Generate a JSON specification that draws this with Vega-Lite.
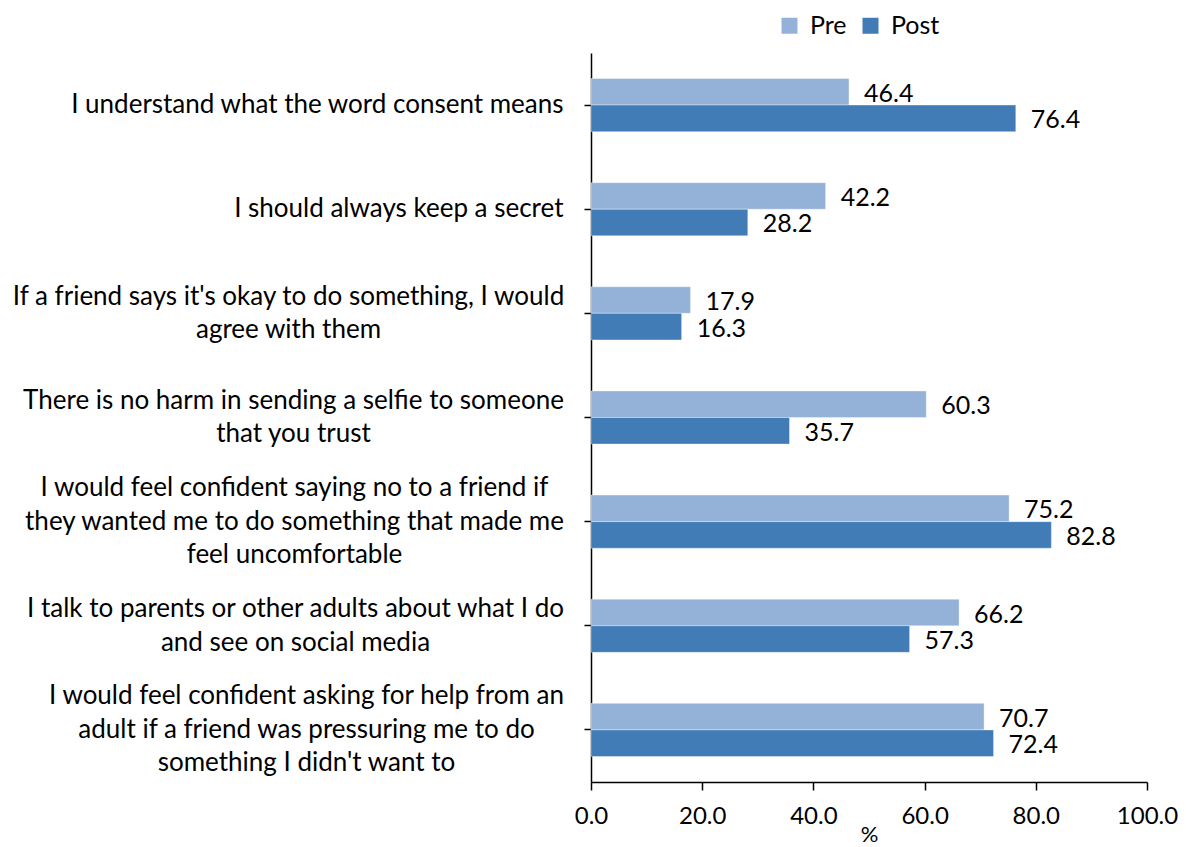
{
  "$schema": "https://vega.github.io/schema/vega-lite/v6.json",
  "width": 556,
  "height": 729,
  "autosize": {"type": "none"},
  "padding": {"left": 591, "top": 53, "right": 39, "bottom": 65},
  "background": "white",
  "data": {
    "values": [
      {"item": "I understand what the word consent means", "series": "Pre", "value": 46.4},
      {"item": "I understand what the word consent means", "series": "Post", "value": 76.4},
      {"item": "I should always keep a secret", "series": "Pre", "value": 42.2},
      {"item": "I should always keep a secret", "series": "Post", "value": 28.2},
      {"item": "If a friend says it's okay to do something, I would|agree with them", "series": "Pre", "value": 17.9},
      {"item": "If a friend says it's okay to do something, I would|agree with them", "series": "Post", "value": 16.3},
      {"item": "There is no harm in sending a selfie to someone|that you trust", "series": "Pre", "value": 60.3},
      {"item": "There is no harm in sending a selfie to someone|that you trust", "series": "Post", "value": 35.7},
      {"item": "I would feel confident saying no to a friend if|they wanted me to do something that made me|feel uncomfortable", "series": "Pre", "value": 75.2},
      {"item": "I would feel confident saying no to a friend if|they wanted me to do something that made me|feel uncomfortable", "series": "Post", "value": 82.8},
      {"item": "I talk to parents or other adults about what I do|and see on social media", "series": "Pre", "value": 66.2},
      {"item": "I talk to parents or other adults about what I do|and see on social media", "series": "Post", "value": 57.3},
      {"item": "I would feel confident asking for help from an|adult if a friend was pressuring me to do|something I didn't want to", "series": "Pre", "value": 70.7},
      {"item": "I would feel confident asking for help from an|adult if a friend was pressuring me to do|something I didn't want to", "series": "Post", "value": 72.4}
    ]
  },
  "encoding": {
    "y": {
      "field": "item",
      "type": "nominal",
      "sort": null,
      "scale": {"paddingInner": 0.49, "paddingOuter": 0.245},
      "axis": {
        "title": null,
        "labelExpr": "split(datum.value, '|')",
        "labelFont": "Lato",
        "labelFontSize": 26,
        "labelLineHeight": 33.5,
        "labelColor": "black",
        "labelLimit": 0,
        "labelAlign": {
          "condition": {"test": "indexof(datum.value, '|') >= 0", "value": "center"},
          "value": "right"
        },
        "labelPadding": {
          "condition": [
            {"test": "indexof(datum.value, 'okay') >= 0", "value": 296},
            {"test": "indexof(datum.value, 'selfie') >= 0", "value": 291},
            {"test": "indexof(datum.value, 'saying no') >= 0", "value": 290},
            {"test": "indexof(datum.value, 'parents') >= 0", "value": 289},
            {"test": "indexof(datum.value, 'asking') >= 0", "value": 278}
          ],
          "value": 21
        },
        "labelOffset": {
          "condition": [
            {"test": "length(split(datum.value, '|')) == 3", "value": -33.5},
            {"test": "length(split(datum.value, '|')) == 2", "value": -16.75}
          ],
          "value": 0
        },
        "tickSize": 7,
        "tickColor": "black",
        "tickWidth": 1.5,
        "domainColor": "black",
        "domainWidth": 1.5,
        "grid": false
      }
    },
    "yOffset": {
      "field": "series",
      "type": "nominal",
      "sort": ["Pre", "Post"],
      "scale": {"paddingInner": 0, "paddingOuter": 0}
    },
    "x": {
      "field": "value",
      "type": "quantitative",
      "scale": {"domain": [0, 100], "nice": false},
      "axis": {
        "title": "%",
        "titleFont": "Lato",
        "titleFontSize": 22,
        "titleFontWeight": "normal",
        "titleColor": "black",
        "titlePadding": -4,
        "values": [0, 20, 40, 60, 80, 100],
        "format": ".1f",
        "labelFont": "Lato",
        "labelFontSize": 24,
        "labelColor": "black",
        "labelPadding": 14,
        "labelFlush": false,
        "tickSize": 8,
        "tickColor": "black",
        "tickWidth": 1.5,
        "domainColor": "black",
        "domainWidth": 1.5,
        "grid": false
      }
    }
  },
  "layer": [
    {
      "mark": {"type": "bar", "stroke": "white", "strokeWidth": 0.6, "strokeOpacity": 0.6},
      "encoding": {
        "color": {
          "field": "series",
          "type": "nominal",
          "scale": {"domain": ["Pre", "Post"], "range": ["#94B2D8", "#417CB6"]},
          "legend": {
            "title": null,
            "orient": "none",
            "legendX": 186,
            "legendY": -40,
            "direction": "horizontal",
            "symbolType": "square",
            "symbolSize": 256,
            "symbolStrokeWidth": 0,
            "labelFont": "Lato",
            "labelFontSize": 25,
            "labelColor": "black",
            "labelOffset": 8,
            "columnPadding": 11
          }
        }
      }
    },
    {
      "mark": {"type": "text", "align": "left", "baseline": "middle", "dx": 15, "dy": 2, "font": "Lato", "fontSize": 25, "color": "black"},
      "encoding": {
        "text": {"field": "value", "type": "quantitative", "format": ".1f"}
      }
    }
  ],
  "config": {"view": {"stroke": null}}
}
